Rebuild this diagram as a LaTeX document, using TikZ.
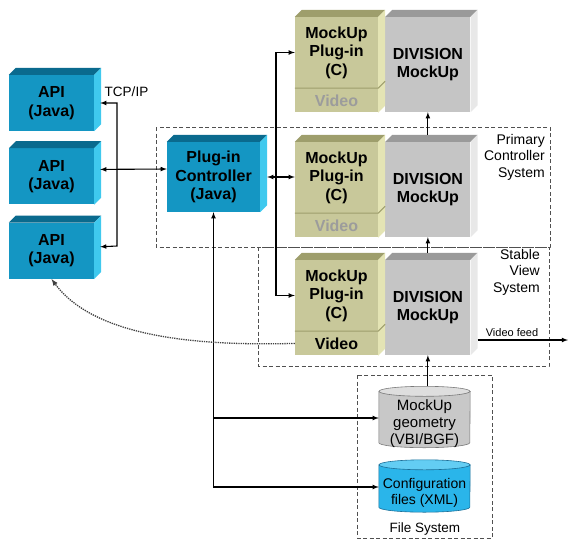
\documentclass[tikz,border=0pt]{standalone}
\usepackage{fontspec}
\setmainfont{Liberation Sans}
\usetikzlibrary{positioning,arrows,calc,backgrounds}
\definecolor{apifront}{HTML}{1496C3}
\definecolor{apitop}{HTML}{0A6A8E}
\definecolor{apiside}{HTML}{3FC9EE}
\definecolor{plugfront}{HTML}{C8C89A}
\definecolor{plugtop}{HTML}{9E9E6C}
\definecolor{plugside}{HTML}{E4E4B4}
\definecolor{dmfront}{HTML}{C5C5C5}
\definecolor{dmtop}{HTML}{9A9A9A}
\definecolor{dmside}{HTML}{E8E8E8}
\definecolor{videogray}{HTML}{9C9C9C}
\definecolor{geobody}{HTML}{C8C8C8}
\definecolor{geotop}{HTML}{DEDEDE}
\definecolor{geoline}{HTML}{7A7A7A}
\definecolor{cfgbody}{HTML}{2AB5EA}
\definecolor{cfgtop}{HTML}{63CDF3}
\definecolor{cfgline}{HTML}{1B6F98}
\definecolor{framegray}{HTML}{505050}
\tikzset{
block/.style={rectangle, inner sep=0pt, align=center,
  font=\bfseries\fontsize{16}{18.5}\selectfont},
apibox/.style={block, fill=apifront, minimum width=85pt, minimum height=56pt},
ctrlbox/.style={block, fill=apifront, minimum width=93pt, minimum height=70pt},
plugbox/.style={block, fill=plugfront, minimum width=83pt, minimum height=71pt},
videobox/.style={block, fill=plugfront, minimum width=83pt, minimum height=24pt, text=videogray},
dmbox/.style={block, fill=dmfront, minimum width=85pt, minimum height=95pt},
dbtext/.style={rectangle, inner sep=0pt, align=center, minimum width=91pt, minimum height=51pt},
frame/.style={draw=framegray, line width=0.9pt, dash pattern=on 4pt off 2.5pt},
caption/.style={inner sep=0pt, align=right, font=\fontsize{14}{16.5}\selectfont},
link/.style={line width=1.1pt},
}
% top and side faces of a block
\newcommand{\boxsides}[3]{%
  \fill[fill=#2] (#1.north west) -- ++(7,-7) -- ([shift={(7,-7)}]#1.north east) -- (#1.north east) -- cycle;
  \fill[fill=#3] (#1.north east) -- ++(7,-7) -- ([shift={(7,-7)}]#1.south east) -- (#1.south east) -- cycle;}
% cylinder behind a file node
\newcommand{\cylsides}[4]{%
  \begin{scope}[on background layer]
  \filldraw[fill=#2, draw=#4, line width=0.6pt] ([yshift=7pt]#1.north west) -- ([yshift=7pt]#1.south west)
    arc[start angle=180, end angle=360, x radius=45.5pt, y radius=5pt] -- ([yshift=7pt]#1.north east) -- cycle;
  \filldraw[fill=#3, draw=#4, line width=0.6pt] ([yshift=7pt]#1.north) ellipse [x radius=45.5pt, y radius=5pt];
  \end{scope}}

\begin{document}
\begin{tikzpicture}[x=1pt, y=-1pt, >=latex]
\useasboundingbox (0,0) rectangle (568,542);

% system frames
\draw[frame] (156,127) rectangle (550,247);
\draw[frame] (258,247) rectangle (549,366);
\draw[frame] (357,375) rectangle (492,538);
\node[caption, anchor=east] (pcs) at (545,157) {Primary\\Controller\\System};
\node[caption, anchor=east] (svs) at (540,272) {Stable\\View\\System};
\node[caption, font=\fontsize{13.5}{16}\selectfont] (fs) at (425,529) {File System};

% clients
\node[apibox] (api1) at (51.5,103) {API\\(Java)};
\node[apibox, below=17pt of api1] (api2) {API\\(Java)};
\node[apibox, below=18pt of api2] (api3) {API\\(Java)};
\node[caption, font=\fontsize{13.5}{16}\selectfont] (tcp) at (126.5,92) {TCP/IP};

\node[ctrlbox] (ctrl) at (213.5,177) {Plug-in\\Controller\\(Java)};

% MockUp stacks
\node[plugbox] (plug1) at (336.5,52.5) {MockUp\\Plug-in\\(C)};
\node[videobox, below=0pt of plug1] (vid1) {Video};
\node[dmbox, anchor=north west] (dm1) at ([xshift=7pt]plug1.north east) {DIVISION\\MockUp};

\node[plugbox] (plug2) at (336.5,177.5) {MockUp\\Plug-in\\(C)};
\node[videobox, below=0pt of plug2] (vid2) {Video};
\node[dmbox, anchor=north west] (dm2) at ([xshift=7pt]plug2.north east) {DIVISION\\MockUp};

\node[plugbox] (plug3) at (336.5,295.5) {MockUp\\Plug-in\\(C)};
\node[videobox, text=black, below=0pt of plug3] (vid3) {Video};
\node[dmbox, anchor=north west] (dm3) at ([xshift=7pt]plug3.north east) {DIVISION\\MockUp};

\foreach \b in {api1,api2,api3,ctrl} {\boxsides{\b}{apitop}{apiside}}
\foreach \b in {1,2,3} {
  \boxsides{vid\b}{none}{plugside}
  \boxsides{plug\b}{plugtop}{plugside}
  \draw[plugtop, line width=1pt] (vid\b.north west) -- (vid\b.north east) -- ++(7,-7);
  \boxsides{dm\b}{dmtop}{dmside}
}

% files
\node[dbtext, font=\fontsize{15}{17}\selectfont] (geo) at (424.5,424) {MockUp\\geometry\\(VBI/BGF)};
\node[dbtext, minimum height=42pt, font=\fontsize{14}{16}\selectfont] (cfg) at (424.5,493) {Configuration\\files (XML)};
\cylsides{geo}{geobody}{geotop}{geoline}
\cylsides{cfg}{cfgbody}{cfgtop}{cfgline}

% connections
\coordinate (tcpbot) at (117,246);
\coordinate (pbus) at (276,0);
\coordinate (feed) at (568,340);
\draw[link,<->] ($(api1.east)+(6,0)$) -| (tcpbot) -- ($(api3.east)+(6,-4)$);
\draw[link,<->] ($(api2.east)+(6,-7)$) -- ($(ctrl.west)+(0,-8)$);
\draw[link,<->] ($(ctrl.east)+(7,0)$) -- (ctrl.east -| plug2.west);
\draw[link,<->] (plug1.west) -- (plug1.west -| pbus) -- (plug3.west -| pbus) -- (plug3.west);
\draw[link,->] ($(dm2.north)+(0,-7)$) -- (dm1.south);
\draw[link,->] ($(dm3.north)+(0,-7)$) -- (dm2.south);
\draw[link,->] ($(dm3.south |- geo.north)+(0,-12)$) -- (dm3.south);
\draw[link,<->] (ctrl.south) -- ($(ctrl.south |- cfg.west)+(0,-6)$) -- ($(cfg.west)+(0,-6)$);
\draw[link,->] ($(ctrl.south |- geo.west)+(0,-6)$) -- ($(geo.west)+(0,-6)$);
\draw[link,->] ($(feed -| dm3.east)+(7,0)$) -- (feed);
\node[inner sep=0pt, font=\fontsize{11}{13}\selectfont] (feedlbl) at (512,333) {Video feed};
\draw[->, densely dotted, line width=1.3pt, draw=black!75] (vid3.west) .. controls (200,346) and (95,338) .. (api3.south);
\end{tikzpicture}
\end{document}
